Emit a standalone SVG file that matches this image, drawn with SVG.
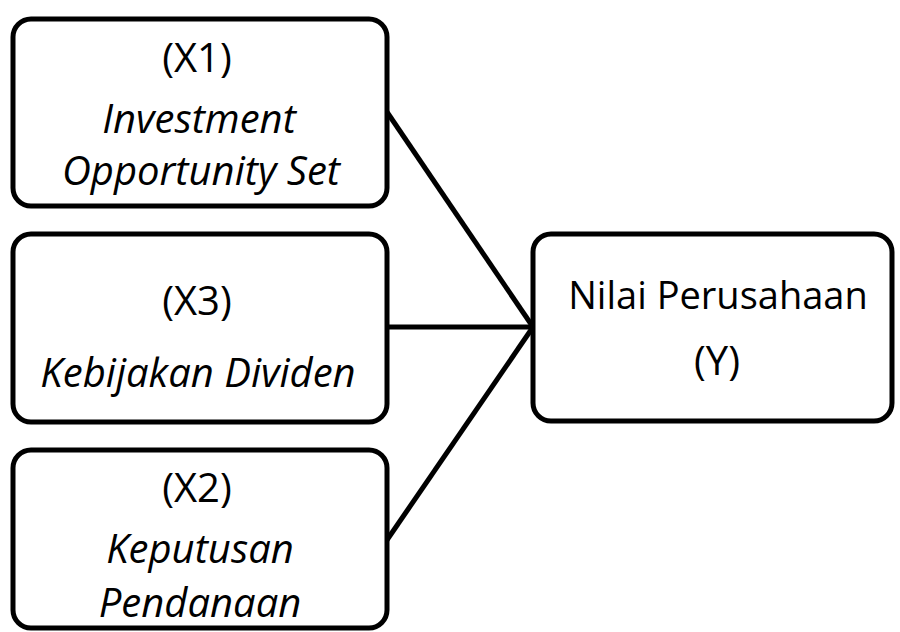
<svg xmlns="http://www.w3.org/2000/svg" width="900" height="632" viewBox="0 0 900 632">
<style>
.box{fill:#fff;stroke:#000;stroke-width:5}
.t{font-family:"Open Sans","Noto Sans","Liberation Sans",sans-serif;font-size:40px;fill:#000;text-anchor:middle}
.i{font-style:italic}
.c{stroke:#000;stroke-width:5;fill:none}
</style>
<rect width="900" height="632" fill="#fff"/>
<g id="connectors">
<line class="c" x1="387" y1="112" x2="533" y2="327"/>
<line class="c" x1="387" y1="327" x2="533" y2="327"/>
<line class="c" x1="387" y1="540" x2="533" y2="327"/>
</g>
<g id="x1">
<rect class="box" x="13" y="19" width="374" height="187" rx="18"/>
<text class="t" x="197" y="72">(X1)</text>
<text class="t i" x="199" y="133">Investment</text>
<text class="t i" x="201" y="185">Opportunity Set</text>
</g>
<g id="x3">
<rect class="box" x="13" y="234" width="374" height="188" rx="18"/>
<text class="t" x="197" y="315">(X3)</text>
<text class="t i" x="198" y="387">Kebijakan Dividen</text>
</g>
<g id="x2">
<rect class="box" x="13" y="450" width="374" height="178" rx="18"/>
<text class="t" x="197" y="502">(X2)</text>
<text class="t i" x="200" y="563">Keputusan</text>
<text class="t i" x="200" y="617">Pendanaan</text>
</g>
<g id="y">
<rect class="box" x="533" y="234" width="359" height="187" rx="18"/>
<text class="t" x="718" y="309" style="font-size:38px">Nilai Perusahaan</text>
<text class="t" x="717" y="375">(Y)</text>
</g>
</svg>
